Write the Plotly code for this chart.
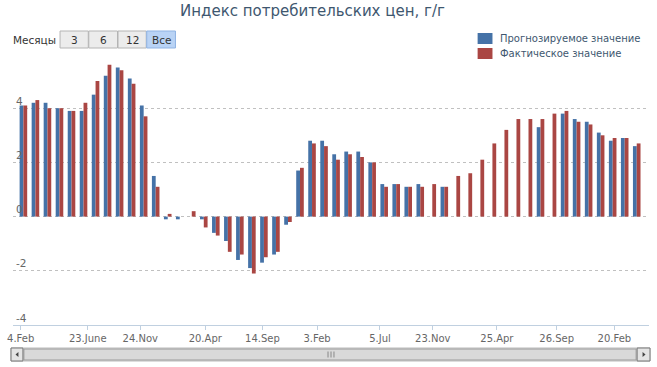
import plotly.graph_objects as go

# ---------------- data ----------------
months = ["2007-12", "2008-01", "2008-02", "2008-03", "2008-04", "2008-05", "2008-06",
          "2008-07", "2008-08", "2008-09", "2008-10", "2008-11", "2008-12",
          "2009-01", "2009-02", "2009-03", "2009-04", "2009-05", "2009-06",
          "2009-07", "2009-08", "2009-09", "2009-10", "2009-11", "2009-12",
          "2010-01", "2010-02", "2010-03", "2010-04", "2010-05", "2010-06",
          "2010-07", "2010-08", "2010-09", "2010-10", "2010-11", "2010-12",
          "2011-01", "2011-02", "2011-03", "2011-04", "2011-05", "2011-06",
          "2011-07", "2011-08", "2011-09", "2011-10", "2011-11", "2011-12",
          "2012-01", "2012-02", "2012-03"]

forecast = [4.1, 4.2, 4.2, 4.0, 3.9, 3.9, 4.5,
            5.2, 5.5, 5.1, 4.1, 1.5, -0.1,
            -0.1, None, -0.1, -0.6, -0.9, -1.6,
            -1.9, -1.7, -1.4, -0.3, 1.7, 2.8,
            2.8, 2.3, 2.4, 2.4, 2.0, 1.2,
            1.2, 1.1, 1.2, None, 1.1, None,
            None, None, None, None, None, None,
            3.3, None, 3.8, 3.6, 3.5, 3.1,
            2.8, 2.9, 2.6]

actual = [4.1, 4.3, 4.0, 4.0, 3.9, 4.2, 5.0,
          5.6, 5.4, 4.9, 3.7, 1.1, 0.1,
          0.0, 0.2, -0.4, -0.7, -1.3, -1.4,
          -2.1, -1.5, -1.3, -0.2, 1.8, 2.7,
          2.6, 2.1, 2.3, 2.2, 2.0, 1.1,
          1.2, 1.1, 1.1, 1.2, 1.1, 1.5,
          1.6, 2.1, 2.7, 3.2, 3.6, 3.6,
          3.6, 3.8, 3.9, 3.5, 3.4, 3.0,
          2.9, 2.9, 2.7]

tick_pos = [-0.23, 5.35, 9.72, 15.12, 19.88, 24.42, 29.65, 34.04, 39.37, 44.34, 49.14]
tick_labels = ["4.Feb", "23.June", "24.Nov", "20.Apr", "14.Sep", "3.Feb",
               "5.Jul", "23.Nov", "25.Apr", "26.Sep", "20.Feb"]

y_ticks = [-4, -2, 0, 2, 4, 6]
y_tick_labels = ["-4", "-2", "0", "2", "4", ""]

series_names = ["Прогнозируемое значение", "Фактическое значение"]
title_text = "Индекс потребительских цен, г/г"
range_label = "Месяцы"
range_buttons = ["3", "6", "12", "Все"]

# ---------------- layout geometry ----------------
W, H = 657, 367
L, R, T, B = 7, 649, 54, 325
PW, PH = R - L, B - T

def px(x):
    return (x - L) / PW

def py(y):
    return (B - y) / PH

BLUE = "#4572A7"
RED = "#AA4643"
FONT = "DejaVu Sans"

x = list(range(len(months)))

fig = go.Figure()
fig.add_trace(go.Bar(x=x, y=forecast, name=series_names[0], marker_color=BLUE,
                     marker_line_width=0, customdata=months))
fig.add_trace(go.Bar(x=x, y=actual, name=series_names[1], marker_color=RED,
                     marker_line_width=0, customdata=months))

shapes = []
annotations = []

# title
annotations.append(dict(x=px(309), y=py(11), xref="paper", yref="paper", text=title_text,
                        showarrow=False, xanchor="center", yanchor="middle",
                        font=dict(family=FONT, size=15, color="#3E576F")))

# range selector
annotations.append(dict(x=px(5), y=py(40), xref="paper", yref="paper", text=range_label,
                        showarrow=False, xanchor="left", yanchor="middle",
                        font=dict(family=FONT, size=10.5, color="#333333")))
btn_x = [(54.5, 83), (83.5, 112.5), (113, 141.5), (142, 171)]
for i, (lbl, (x0, x1)) in enumerate(zip(range_buttons, btn_x)):
    sel = i == len(range_buttons) - 1
    shapes.append(dict(type="rect", xref="paper", yref="paper",
                       x0=px(x0), x1=px(x1), y0=py(31), y1=py(48),
                       fillcolor="#b9d3f5" if sel else "#ececec",
                       line=dict(color="#8fb3e3" if sel else "#b4b4b4", width=1)))
    annotations.append(dict(x=px((x0 + x1) / 2), y=py(40), xref="paper", yref="paper",
                            text=lbl, showarrow=False, xanchor="center", yanchor="middle",
                            font=dict(family=FONT, size=10.5, color="#333333")))

# manual legend
for i, (name, col) in enumerate(zip(series_names, [BLUE, RED])):
    yc = 38.5 + 15 * i
    shapes.append(dict(type="rect", xref="paper", yref="paper",
                       x0=px(476), x1=px(491), y0=py(yc - 5.5), y1=py(yc + 5.5),
                       fillcolor=col, line=dict(width=0)))
    annotations.append(dict(x=px(497), y=py(yc), xref="paper", yref="paper", text=name,
                            showarrow=False, xanchor="left", yanchor="middle",
                            font=dict(family=FONT, size=10, color="#3E576F")))

# scrollbar
sy0, sy1 = 348, 361
shapes.append(dict(type="rect", xref="paper", yref="paper", x0=px(5), x1=px(650),
                   y0=py(sy1), y1=py(sy0), fillcolor="#eeeeee",
                   line=dict(color="#bbbbbb", width=1)))
shapes.append(dict(type="rect", xref="paper", yref="paper", x0=px(18), x1=px(636),
                   y0=py(sy1 - 1), y1=py(sy0 + 1), fillcolor="#d9d9d9",
                   line=dict(color="#9a9a9a", width=1)))
shapes.append(dict(type="rect", xref="paper", yref="paper", x0=px(5), x1=px(17),
                   y0=py(sy1), y1=py(sy0), fillcolor="#e4e4e4",
                   line=dict(color="#777777", width=1)))
shapes.append(dict(type="rect", xref="paper", yref="paper", x0=px(637), x1=px(650),
                   y0=py(sy1), y1=py(sy0), fillcolor="#e4e4e4",
                   line=dict(color="#777777", width=1)))
shapes.append(dict(type="path", xref="paper", yref="paper",
                   path=f"M {px(9.5)} {py(354.5)} L {px(12.5)} {py(352)} L {px(12.5)} {py(357)} Z",
                   fillcolor="#444444", line=dict(width=0)))
shapes.append(dict(type="path", xref="paper", yref="paper",
                   path=f"M {px(645.5)} {py(354.5)} L {px(642.5)} {py(352)} L {px(642.5)} {py(357)} Z",
                   fillcolor="#444444", line=dict(width=0)))
for gx in (325, 328, 331):
    shapes.append(dict(type="line", xref="paper", yref="paper", x0=px(gx), x1=px(gx),
                       y0=py(351.5), y1=py(357.5), line=dict(color="#888888", width=1)))

fig.update_layout(
    width=W, height=H,
    margin=dict(l=L, r=W - R, t=T, b=H - B, pad=0),
    paper_bgcolor="white", plot_bgcolor="white",
    barmode="group", bargap=0.37, bargroupgap=0,
    showlegend=False,
    font=dict(family=FONT, size=10, color="#666666"),
    shapes=shapes, annotations=annotations,
    xaxis=dict(range=[-0.865, 52.02], tickmode="array", tickvals=tick_pos, ticktext=tick_labels,
               showgrid=False, zeroline=False, showline=True, linecolor="#C0D0E0", linewidth=1,
               ticks="outside", ticklen=4, tickcolor="#C0D0E0", ticklabeloverflow="allow",
               tickfont=dict(family=FONT, size=10, color="#666666"), fixedrange=True),
    yaxis=dict(range=[-4, 6], tickmode="array", tickvals=y_ticks, ticktext=y_tick_labels,
               showgrid=True, gridcolor="#c0c0c0", griddash="dot", gridwidth=1,
               zeroline=False, showline=False, ticks="",
               ticklabelposition="inside", ticklabelshift=-7, ticklabelstandoff=0,
               ticklabeloverflow="allow",
               tickfont=dict(family=FONT, size=10.5, color="#666666"), fixedrange=True),
)

fig.write_html("out.html", config={"displayModeBar": False},
               post_script="document.body.style.margin='0';document.body.style.padding='0';")
